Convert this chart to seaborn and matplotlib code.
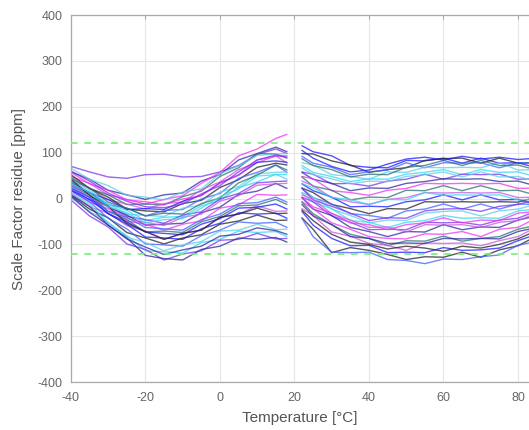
import matplotlib
matplotlib.use("Agg")
import matplotlib.pyplot as plt
import seaborn as sns
import pandas as pd

# Temperatures of the two measurement segments [°C]
temp_seg1 = [-40, -35, -30, -25, -20, -15, -10, -5, 0, 5, 10, 15, 18]
temp_seg2 = [22, 25, 30, 35, 40, 45, 50, 55, 60, 65, 70, 75, 80, 85]

# Scale factor residue [ppm], segment 1 (cold side), one row per device
resid_seg1 = [
    [70, 58, 47, 44, 52, 53, 47, 48, 58, 72, 96, 108, 98],
    [58, 42, 18, 8, -2, 8, 12, 38, 52, 84, 98, 112, 102],
    [48, 33, 8, -2, -12, -2, 6, 33, 57, 93, 108, 131, 140],
    [46, 22, 8, -13, -12, -14, 4, 16, 48, 67, 98, 97, 88],
    [38, 23, -3, -12, -23, -11, -8, 19, 36, 63, 78, 93, 77],
    [36, 12, -2, -24, -22, -24, -6, 7, 34, 51, 79, 82, 79],
    [52, 22, 3, -23, -27, -29, -11, -4, 24, 41, 68, 77, 73],
    [28, 13, -13, -21, -38, -26, -24, -1, 11, 44, 57, 73, 57],
    [27, 2, -12, -34, -37, -39, -21, -14, 14, 26, 54, 57, 58],
    [38, 18, -13, -26, -48, -41, -39, -16, -4, 24, 36, 53, 42],
    [22, -3, -17, -39, -46, -54, -36, -29, -1, 11, 34, 37, 38],
    [33, 13, -18, -36, -58, -56, -54, -31, -19, 9, 16, 33, 22],
    [17, -8, -22, -49, -56, -69, -56, -49, -21, -14, 9, 7, 8],
    [28, 8, -28, -46, -73, -71, -74, -51, -39, -16, -14, -2, -13],
    [12, -18, -32, -59, -71, -89, -76, -69, -41, -34, -16, -28, -27],
    [23, 3, -33, -56, -84, -86, -89, -66, -54, -31, -34, -32, -43],
    [7, -23, -42, -74, -86, -99, -86, -79, -56, -49, -36, -48, -47],
    [18, -7, -43, -66, -99, -101, -104, -81, -69, -51, -54, -52, -63],
    [2, -28, -52, -84, -96, -114, -101, -94, -71, -69, -56, -68, -67],
    [13, -12, -53, -81, -114, -116, -119, -96, -89, -71, -74, -72, -83],
    [-3, -38, -62, -99, -111, -134, -121, -114, -91, -89, -76, -88, -87],
    [8, -17, -58, -86, -124, -131, -134, -111, -104, -86, -89, -85, -95],
    [57, 32, 18, -3, -7, -13, -1, 6, 34, 51, 84, 92, 93],
    [43, 23, -8, -21, -38, -32, -34, -11, 1, 34, 51, 73, 62],
    [32, 2, -17, -44, -52, -59, -41, -34, -6, 6, 29, 32, 33],
    [18, -2, -33, -51, -73, -76, -79, -56, -44, -21, -19, -12, -23],
    [42, 7, -17, -54, -72, -89, -76, -69, -41, -34, -21, -33, -32],
    [23, 3, -28, -41, -63, -66, -69, -46, -34, -11, -9, 3, -8],
    [66, 42, 28, 7, 3, -3, 14, 21, 54, 71, 94, 97, 98],
    [33, 13, -18, -31, -53, -46, -44, -21, 4, 21, 49, 52, 53],
    [60, 38, 12, -6, -18, -20, -12, 10, 28, 58, 84, 95, 90],
    [5, -30, -58, -88, -106, -122, -112, -104, -82, -78, -64, -70, -78],
]

# Scale factor residue [ppm], segment 2 (warm side)
resid_seg2 = [
    [115, 102, 93, 72, 68, 67, 83, 82, 88, 77, 88, 77, 78, 67],
    [98, 97, 82, 73, 57, 63, 67, 83, 87, 88, 77, 88, 77, 78],
    [92, 77, 68, 52, 58, 62, 78, 67, 78, 77, 78, 67, 78, 77],
    [78, 73, 52, 48, 42, 58, 57, 68, 67, 68, 67, 78, 62, 63],
    [72, 57, 48, 37, 43, 42, 53, 57, 63, 52, 63, 57, 58, 47],
    [58, 53, 32, 33, 27, 38, 42, 53, 42, 53, 52, 53, 42, 43],
    [57, 42, 33, 17, 23, 22, 33, 37, 43, 42, 43, 37, 38, 27],
    [48, 43, 17, 13, 7, 18, 22, 33, 32, 33, 32, 33, 22, 23],
    [47, 27, 18, -3, 3, 2, 18, 17, 28, 17, 28, 17, 18, 7],
    [38, 28, 2, -7, -13, -2, 2, 13, 12, 13, 12, 13, 2, 3],
    [32, 17, 3, -18, -17, -18, -7, -3, 8, -3, 8, -3, -2, -13],
    [23, 13, -13, -22, -33, -22, -23, -7, -8, -7, -8, -7, -8, 3],
    [22, 2, -12, -33, -37, -43, -27, -23, -12, -23, -12, -23, -12, -13],
    [13, 3, -23, -37, -53, -47, -48, -32, -28, -27, -38, -27, -23, -12],
    [12, -8, -22, -48, -52, -63, -52, -48, -37, -43, -42, -43, -27, -23],
    [3, -7, -38, -52, -68, -67, -68, -52, -53, -52, -58, -47, -43, -27],
    [2, -23, -37, -63, -72, -83, -72, -73, -57, -68, -62, -63, -47, -38],
    [-7, -22, -53, -67, -83, -87, -88, -77, -78, -72, -83, -67, -63, -42],
    [-8, -33, -57, -78, -87, -103, -92, -93, -82, -93, -87, -83, -67, -58],
    [-22, -37, -73, -82, -98, -102, -113, -97, -98, -97, -103, -92, -83, -62],
    [-28, -58, -87, -103, -102, -118, -117, -118, -107, -113, -112, -108, -92, -78],
    [-42, -67, -118, -107, -113, -122, -133, -127, -128, -117, -128, -112, -103, -82],
    [-43, -83, -117, -118, -117, -133, -135, -142, -132, -133, -127, -123, -102, -93],
    [67, 52, 43, 32, 38, 37, 48, 52, 58, 47, 58, 47, 48, 37],
    [33, 23, 2, -2, -13, -2, -3, 13, 7, 8, 7, 8, -3, -2],
    [22, -3, -17, -32, -48, -42, -43, -27, -23, -22, -28, -17, -13, -2],
    [-13, -38, -57, -83, -87, -98, -97, -98, -87, -88, -87, -88, -72, -63],
    [2, -18, -32, -53, -57, -68, -57, -53, -42, -53, -47, -48, -32, -28],
    [87, 72, 63, 47, 53, 52, 68, 72, 83, 72, 83, 72, 73, 62],
    [8, -2, -33, -47, -63, -62, -73, -57, -58, -57, -63, -52, -48, -32],
    [105, 88, 70, 58, 62, 75, 86, 90, 84, 92, 86, 90, 85, 88],
    [-25, -48, -78, -95, -100, -110, -104, -108, -115, -104, -108, -100, -88, -70],
]

limit_ppm = [120, -120]
x_ticks = [-40, -20, 0, 20, 40, 60, 80]
y_ticks = [-400, -300, -200, -100, 0, 100, 200, 300, 400]

sns.set_style("white")
plt.rcParams['font.family'] = ['Liberation Sans', 'DejaVu Sans']
plt.rcParams['axes.unicode_minus'] = False

line_colors = ['#1a1aff', '#ee33ee', '#33d8ee', '#222222', '#2a7070',
               '#7a30ee', '#4060ff', '#cc55dd', '#2a2aa0', '#60cce8']

fig = plt.figure(figsize=(5.29, 4.30), dpi=100)
ax = fig.add_axes([0.134, 0.1116, 0.866, 0.8535])

rows = []
for i, vals in enumerate(resid_seg1):
    for t, v in zip(temp_seg1, vals):
        rows.append((t, v, i, 1))
for i, vals in enumerate(resid_seg2):
    for t, v in zip(temp_seg2, vals):
        rows.append((t, v, i, 2))
df = pd.DataFrame(rows, columns=['T', 'r', 'dev', 'seg'])

for (dev, seg), g in df.groupby(['dev', 'seg']):
    c = line_colors[(dev * 3 + seg * 5) % len(line_colors)]
    sns.lineplot(data=g, x='T', y='r', ax=ax, color=c, lw=1.0,
                 alpha=0.75, estimator=None, legend=False)

for lim in limit_ppm:
    ax.axhline(lim, color='#77ee77', lw=1.2, ls=(0, (4, 4)), zorder=5)

ax.set_xlim(-40, 82.95)
ax.set_ylim(-400, 400)
ax.set_xticks(x_ticks)
ax.set_yticks(y_ticks)
ax.grid(True, color='#e6e6e6', lw=0.8)
ax.set_axisbelow(True)
for s in ['left', 'top', 'bottom']:
    ax.spines[s].set_color('#aaaaaa')
    ax.spines[s].set_linewidth(0.9)
ax.spines['right'].set_visible(False)
ax.tick_params(direction='in', length=3, color='#aaaaaa', labelsize=9,
               labelcolor='#666666', top=True)
ax.tick_params(axis='x', pad=7)
ax.tick_params(axis='y', pad=6)
ax.set_xlabel('Temperature [°C]', fontsize=11, color='#555555', labelpad=5)
ax.set_ylabel('Scale Factor residue [ppm]', fontsize=11, color='#555555',
              labelpad=8)

fig.savefig('out.png', dpi=100)
